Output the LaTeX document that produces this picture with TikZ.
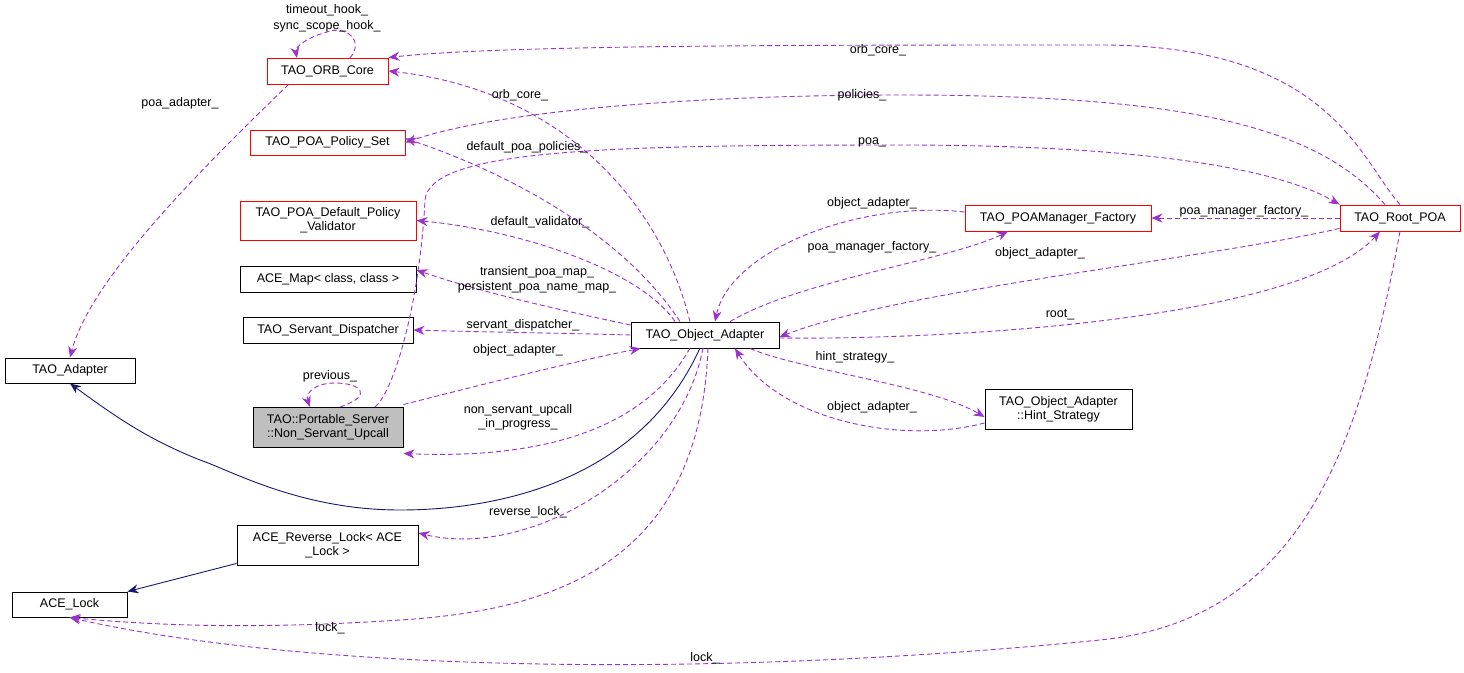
\documentclass[tikz,border=0pt]{standalone}
\usepackage{fontspec}
\setmainfont{Liberation Sans}
\usetikzlibrary{arrows.meta}
\definecolor{edgep}{RGB}{154,50,205}
\definecolor{edgen}{RGB}{25,25,112}
\definecolor{boxred}{RGB}{255,0,0}
\begin{document}
\begin{tikzpicture}[x=1pt,y=-1pt,line width=0.9pt,
  box/.style={draw=black,fill=white,inner sep=0pt,align=center,font=\fontsize{12.5}{14}\selectfont},
  redbox/.style={draw=boxred},
  use/.style={draw=edgep,dash pattern=on 5pt off 3pt,-{Stealth[length=11pt,width=9pt,fill=edgep]}},
  inh/.style={draw=edgen,-{Stealth[length=11pt,width=9pt,fill=edgen]}},
  lab/.style={font=\fontsize{12.5}{14}\selectfont,align=center,inner sep=0pt}]
\useasboundingbox (0,0) rectangle (1464,672);
\node[box,redbox,minimum width=121,minimum height=26] (orb) at (327.5,71) {TAO\_ORB\_Core};
\node[box,redbox,minimum width=155,minimum height=25] (pset) at (327.5,142.5) {TAO\_POA\_Policy\_Set};
\node[box,redbox,minimum width=176,minimum height=39] (val) at (328,220.5) {TAO\_POA\_Default\_Policy\\\_Validator};
\node[box,minimum width=176,minimum height=26] (map) at (328,279) {ACE\_Map< class, class >};
\node[box,minimum width=170,minimum height=26] (sd) at (328,330) {TAO\_Servant\_Dispatcher};
\node[box,minimum width=130,minimum height=25] (ad) at (70,370.5) {TAO\_Adapter};
\node[box,fill={rgb,255:red,191;green,191;blue,191},minimum width=150,minimum height=40] (nsu) at (328,427) {TAO::Portable\_Server\\::Non\_Servant\_Upcall};
\node[box,minimum width=181,minimum height=40] (rl) at (327.5,545) {ACE\_Reverse\_Lock< ACE\\\_Lock >};
\node[box,minimum width=115,minimum height=25] (lock) at (69.5,604.5) {ACE\_Lock};
\node[box,minimum width=148,minimum height=26] (oa) at (705,335) {TAO\_Object\_Adapter};
\node[box,redbox,minimum width=186,minimum height=26] (pmf) at (1058,218) {TAO\_POAManager\_Factory};
\node[box,redbox,minimum width=120,minimum height=26] (root) at (1400,218) {TAO\_Root\_POA};
\node[box,minimum width=147,minimum height=40] (hs) at (1058.5,409) {TAO\_Object\_Adapter\\::Hint\_Strategy};

\coordinate (oab1) at (690,348); \coordinate (oab2) at (700,348); \coordinate (oab3) at (708,348);
\draw[use] (orb.south west)++(22,0) .. controls (200,170) and (90,280) .. (ad.north);
\draw[use] (350,58) .. controls (365,40) and (345,25) .. (327,32) .. controls (305,38) and (295,48) .. (297,58);
\draw[use] (oa.north) ++(-15,0) .. controls (660,200) and (560,90) .. (orb.east);
\draw[use] (root.north) .. controls (1360,160) and (1330,45) .. (1100,45) .. controls (800,45) and (500,45) .. (orb.north east);
\draw[use] (root.north) ++(-15,0) .. controls (1320,130) and (1200,95) .. (900,95) .. controls (700,95) and (500,110) .. (pset.east);
\draw[use] (oa.north) ++(-25,0) .. controls (620,230) and (500,170) .. ([yshift=4]pset.east);
\draw[use] (375,407) .. controls (395,390) and (420,300) .. (425,200) .. controls (430,150) and (600,145) .. (900,145) .. controls (1150,145) and (1280,170) .. (root.north west);
\draw[use] (oa.north) ++(-30,0) .. controls (640,270) and (520,230) .. (val.east);
\draw[use] (oa.west) ++(0,-10) .. controls (560,310) and (480,292) .. ([yshift=9]map.east);
\draw[use] (oa.west) .. controls (560,333) and (480,332) .. (sd.east);
\draw[use] (nsu.north east) ++(0,-2) .. controls (480,385) and (580,360) .. ([xshift=10]oa.south west);
\draw[use] (340,407) .. controls (375,395) and (360,383) .. (335,383) .. controls (315,383) and (305,393) .. (310,407);
\draw[use] (oab1) .. controls (650,420) and (560,460) .. ([yshift=-6]nsu.south east) ;
\draw[inh] (oab2) .. controls (640,480) and (500,510) .. (400,510) .. controls (300,510) and (230,470) .. (200,460) .. controls (150,440) and (120,420) .. (ad.south);
\draw[use] (oab2) ++(3,0) .. controls (680,470) and (530,560) .. ([yshift=12]rl.east);
\draw[use] (oab3) .. controls (700,560) and (560,610) .. (400,620) .. controls (250,630) and (150,625) .. (lock.south);
\draw[inh] (rl.south west) ++(0,-2) -- (lock.north east);
\draw[use] (root.south) .. controls (1360,450) and (1300,620) .. (1100,640) .. controls (700,680) and (300,670) .. (lock.south);
\draw[use] (pmf.west) ++(0,-6) .. controls (860,200) and (730,250) .. ([xshift=10]oa.north);
\draw[use] (oa.north) ++(25,0) .. controls (800,280) and (950,260) .. ([xshift=-50]pmf.south);
\draw[use] (root.west) -- (pmf.east);
\draw[use] (root.south west) ++(0,-3) .. controls (1200,260) and (900,290) .. ([yshift=-2]oa.east);
\draw[use] (oa.east) ++(0,3) .. controls (950,340) and (1300,320) .. ([xshift=-20]root.south);
\draw[use] (oa.south) ++(45,0) .. controls (800,370) and (930,385) .. ([yshift=-8]hs.west);
\draw[use] (hs.west) ++(0,14) .. controls (900,445) and (780,420) .. ([xshift=30]oa.south);

\node[lab] at (327,10) {timeout\_hook\_};
\node[lab] at (327,26) {sync\_scope\_hook\_};
\node[lab] at (180,103) {poa\_adapter\_};
\node[lab] at (520,95) {orb\_core\_};
\node[lab] at (878,50) {orb\_core\_};
\node[lab] at (862,95) {policies\_};
\node[lab] at (527,147) {default\_poa\_policies\_};
\node[lab] at (872,142) {poa\_};
\node[lab] at (540,222) {default\_validator\_};
\node[lab] at (537,272) {transient\_poa\_map\_};
\node[lab] at (537,287) {persistent\_poa\_name\_map\_};
\node[lab] at (523,325) {servant\_dispatcher\_};
\node[lab] at (518,350) {object\_adapter\_};
\node[lab] at (330,376) {previous\_};
\node[lab] at (518,410) {non\_servant\_upcall};
\node[lab] at (518,424) {\_in\_progress\_};
\node[lab] at (528,512) {reverse\_lock\_};
\node[lab] at (330,628) {lock\_};
\node[lab] at (705,658) {lock\_};
\node[lab] at (872,203) {object\_adapter\_};
\node[lab] at (872,247) {poa\_manager\_factory\_};
\node[lab] at (1244,211) {poa\_manager\_factory\_};
\node[lab] at (1040,253) {object\_adapter\_};
\node[lab] at (1060,315) {root\_};
\node[lab] at (855,357) {hint\_strategy\_};
\node[lab] at (872,407) {object\_adapter\_};
\end{tikzpicture}
\end{document}
